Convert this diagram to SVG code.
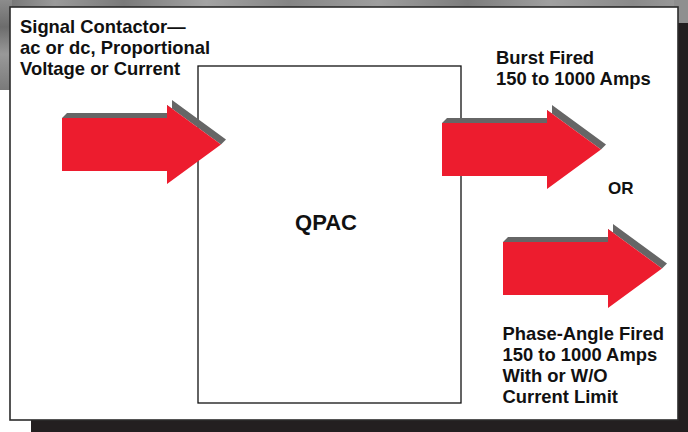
<svg xmlns="http://www.w3.org/2000/svg" width="688" height="432" viewBox="0 0 688 432">
  <defs>
    <linearGradient id="tex" x1="0" y1="0" x2="1" y2="0">
      <stop offset="0" stop-color="#6f6f6f"/>
      <stop offset="0.08" stop-color="#9a9a9a"/>
      <stop offset="0.18" stop-color="#7a7a7a"/>
      <stop offset="0.3" stop-color="#a3a3a3"/>
      <stop offset="0.42" stop-color="#858585"/>
      <stop offset="0.55" stop-color="#9e9e9e"/>
      <stop offset="0.68" stop-color="#7c7c7c"/>
      <stop offset="0.8" stop-color="#a0a0a0"/>
      <stop offset="0.92" stop-color="#8a8a8a"/>
      <stop offset="1" stop-color="#9c9c9c"/>
    </linearGradient>
    <linearGradient id="texv" x1="0" y1="0" x2="0" y2="1">
      <stop offset="0" stop-color="#8c8c8c"/>
      <stop offset="0.3" stop-color="#6c6c6c"/>
      <stop offset="0.6" stop-color="#999999"/>
      <stop offset="1" stop-color="#7a7a7a"/>
    </linearGradient>
    <g id="arrow">
      <polygon class="ashadow" points="0,0 5,-5 110,-5 110,-18 164,21.5 159,26.5 105,-13 105,0"/>
      <polygon class="abody" points="0,0 105,0 105,-13 159,26.5 105,66 105,53 0,53"/>
    </g>
  </defs>
  <style>
    .lbl { font-family: "Liberation Sans", Arial, sans-serif; font-weight: bold; font-size: 18.4px; fill: #111111; }
    .ashadow { fill: #666666; }
    .abody { fill: #ed1c2e; }
    .box { fill: #ffffff; stroke: #111111; stroke-width: 1.3; }
  </style>

  <!-- background -->
  <rect x="0" y="0" width="688" height="432" fill="#ffffff"/>
  <rect x="0" y="0" width="688" height="10" fill="url(#tex)"/>
  <rect x="0" y="0" width="12" height="90" fill="url(#texv)"/>
  <rect x="674" y="0" width="14" height="26" fill="#8f8f8f"/>
  <!-- shadow -->
  <rect x="31" y="420" width="657" height="12" fill="#231f20"/>
  <rect x="678" y="23" width="10" height="409" fill="#231f20"/>
  <!-- panel -->
  <rect x="10" y="7" width="668" height="413" fill="#ffffff" stroke="#2b2b2b" stroke-width="1.6"/>

  <g id="qpac">
    <rect class="box" x="198" y="66" width="263" height="337"/>
    <text class="lbl" x="326" y="230" text-anchor="middle" style="font-size:22px">QPAC</text>
  </g>

  <g id="input-label">
    <text class="lbl" x="20" y="32.5">Signal Contactor—</text>
    <text class="lbl" x="20" y="53.5">ac or dc, Proportional</text>
    <text class="lbl" x="20" y="74.5">Voltage or Current</text>
  </g>

  <g id="burst-label">
    <text class="lbl" x="496" y="63.5">Burst Fired</text>
    <text class="lbl" x="496" y="85">150 to 1000 Amps</text>
  </g>

  <g id="or-label">
    <text class="lbl" x="608" y="194" style="font-size:17px">OR</text>
  </g>

  <g id="phase-label">
    <text class="lbl" x="502.5" y="339.5">Phase-Angle Fired</text>
    <text class="lbl" x="502.5" y="360.5">150 to 1000 Amps</text>
    <text class="lbl" x="502.5" y="381.5">With or W/O</text>
    <text class="lbl" x="502.5" y="402.5">Current Limit</text>
  </g>

  <g id="connectors">
    <use href="#arrow" transform="translate(62,118)"/>
    <use href="#arrow" transform="translate(442,123)"/>
    <use href="#arrow" transform="translate(503,242)"/>
  </g>
</svg>
